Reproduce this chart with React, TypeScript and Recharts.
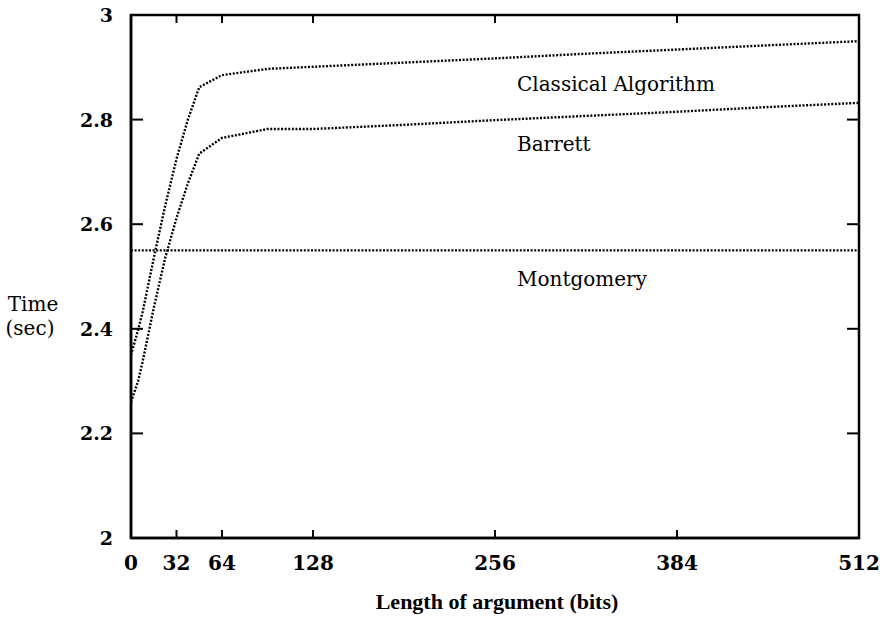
import { LineChart, Line, XAxis, YAxis, ReferenceArea } from 'recharts'

// argument length in bits
const bits = [0, 5, 8, 16, 24, 32, 40, 48, 64, 96, 128, 192, 256, 320, 384, 448, 512]
const classical = [2.35, 2.398, 2.43, 2.535, 2.635, 2.725, 2.8, 2.862, 2.885, 2.897, 2.901, 2.909, 2.917, 2.926, 2.934, 2.942, 2.95]
const barrett = [2.26, 2.3, 2.335, 2.44, 2.535, 2.612, 2.678, 2.735, 2.765, 2.782, 2.782, 2.79, 2.799, 2.807, 2.815, 2.824, 2.832]
const montgomery = [2.55, 2.55, 2.55, 2.55, 2.55, 2.55, 2.55, 2.55, 2.55, 2.55, 2.55, 2.55, 2.55, 2.55, 2.55, 2.55, 2.55]

const xTicks = [0, 32, 64, 128, 256, 384, 512]
const yTicks = [2, 2.2, 2.4, 2.6, 2.8, 3]

const data = bits.map((b, i) => ({
  bits: b,
  classical: classical[i],
  barrett: barrett[i],
  montgomery: montgomery[i],
}))

const FONT = '"DejaVu Serif", "Liberation Serif", serif'
const PLOT_LEFT = 131
const PLOT_RIGHT = 859
const PLOT_TOP = 15
const PLOT_BOTTOM = 538

const YTick = ({ x, y, payload }: any) => {
  const inner = payload.value !== 2 && payload.value !== 3
  return (
    <g>
      <text x={x} y={y + 7} textAnchor="end" fontFamily={FONT} fontSize={19} fontWeight={700} fill="#000">
        {payload.value}
      </text>
      {inner && <line x1={PLOT_LEFT} x2={PLOT_LEFT + 12} y1={y} y2={y} stroke="#000" strokeWidth={2} />}
      {inner && <line x1={PLOT_RIGHT - 12} x2={PLOT_RIGHT} y1={y} y2={y} stroke="#000" strokeWidth={2} />}
    </g>
  )
}

const XTick = ({ x, payload }: any) => {
  const inner = payload.value !== 0 && payload.value !== 512
  return (
    <g>
      <text x={x} y={PLOT_BOTTOM + 32} textAnchor="middle" fontFamily={FONT} fontSize={20} fontWeight={700} fill="#000">
        {payload.value}
      </text>
      {inner && <line x1={x} x2={x} y1={PLOT_BOTTOM} y2={PLOT_BOTTOM - 8} stroke="#000" strokeWidth={2} />}
      {inner && <line x1={x} x2={x} y1={PLOT_TOP} y2={PLOT_TOP + 8} stroke="#000" strokeWidth={2} />}
    </g>
  )
}

const labelStyle = { fontFamily: FONT, fontSize: 20, fill: '#000' }
const dotted = { stroke: '#000', strokeWidth: 2.4, strokeDasharray: '2 1.6' }

export default function App() {
  return (
    <div style={{ position: 'absolute', left: 0, top: 0, width: 880, height: 622, background: '#fff' }}>
      <LineChart width={880} height={622} data={data} margin={{ top: PLOT_TOP, right: 880 - PLOT_RIGHT, left: 0, bottom: 0 }}>
        <XAxis
          dataKey="bits" type="number" domain={[0, 512]} ticks={xTicks}
          height={84} tickSize={0} tickMargin={0} tickLine={false}
          axisLine={{ stroke: '#000', strokeWidth: 2.5 }} tick={<XTick />}
          interval={0}
        />
        <YAxis
          type="number" domain={[2, 3]} ticks={yTicks} width={PLOT_LEFT}
          tickSize={0} tickMargin={18} tickLine={false}
          axisLine={{ stroke: '#000', strokeWidth: 2.5 }} tick={<YTick />}
          interval={0}
        />
        <ReferenceArea x1={0} x2={512} y1={2} y2={3} fill="none" stroke="#000" strokeWidth={2.5} ifOverflow="visible" />
        <Line type="linear" dataKey="classical" {...dotted} dot={false} isAnimationActive={false} />
        <Line type="linear" dataKey="barrett" {...dotted} dot={false} isAnimationActive={false} />
        <Line type="linear" dataKey="montgomery" {...dotted} dot={false} isAnimationActive={false} />
        <text x={517} y={91} {...labelStyle}>Classical Algorithm</text>
        <text x={517} y={151} {...labelStyle}>Barrett</text>
        <text x={517} y={286} {...labelStyle}>Montgomery</text>
        <text x={33} y={311} textAnchor="middle" {...labelStyle}>Time</text>
        <text x={30} y={335} textAnchor="middle" {...labelStyle}>(sec)</text>
        <text x={497} y={609} textAnchor="middle" fontFamily='"Liberation Serif", serif' fontSize={22} fontWeight={700} fill="#000">
          Length of argument (bits)
        </text>
      </LineChart>
    </div>
  )
}
